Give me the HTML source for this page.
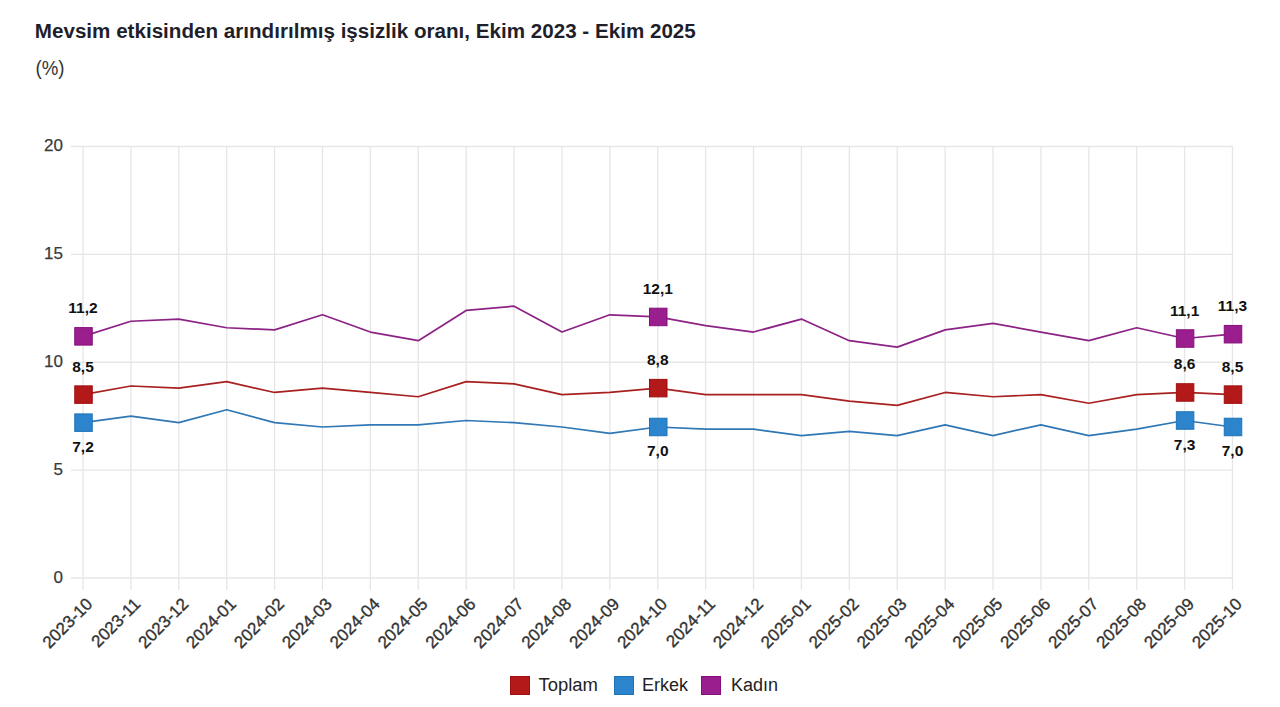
<!DOCTYPE html>
<html><head><meta charset="utf-8"><style>
html,body{margin:0;padding:0;background:#fff;width:1280px;height:707px;overflow:hidden}
svg{display:block}
text{font-family:"Liberation Sans",sans-serif}
</style></head><body>
<svg width="1280" height="707" viewBox="0 0 1280 707">
<rect width="1280" height="707" fill="#fff"/>
<text x="34.8" y="37.8" font-family="Liberation Sans" font-weight="bold" font-size="20" fill="#1f1f2b" textLength="661" lengthAdjust="spacingAndGlyphs">Mevsim etkisinden arındırılmış işsizlik oranı, Ekim 2023 - Ekim 2025</text>
<text x="35.5" y="74.8" font-family="Liberation Sans" font-size="20" fill="#333" textLength="29" lengthAdjust="spacingAndGlyphs">(%)</text>
<g stroke="#e6e6e6" stroke-width="1.3"><line x1="71" y1="578.00" x2="1233.00" y2="578.00"/><line x1="71" y1="470.12" x2="1233.00" y2="470.12"/><line x1="71" y1="362.25" x2="1233.00" y2="362.25"/><line x1="71" y1="254.38" x2="1233.00" y2="254.38"/><line x1="71" y1="146.50" x2="1233.00" y2="146.50"/><line x1="83.00" y1="146.50" x2="83.00" y2="590"/><line x1="130.90" y1="146.50" x2="130.90" y2="590"/><line x1="178.79" y1="146.50" x2="178.79" y2="590"/><line x1="226.69" y1="146.50" x2="226.69" y2="590"/><line x1="274.58" y1="146.50" x2="274.58" y2="590"/><line x1="322.48" y1="146.50" x2="322.48" y2="590"/><line x1="370.38" y1="146.50" x2="370.38" y2="590"/><line x1="418.27" y1="146.50" x2="418.27" y2="590"/><line x1="466.17" y1="146.50" x2="466.17" y2="590"/><line x1="514.06" y1="146.50" x2="514.06" y2="590"/><line x1="561.96" y1="146.50" x2="561.96" y2="590"/><line x1="609.85" y1="146.50" x2="609.85" y2="590"/><line x1="657.75" y1="146.50" x2="657.75" y2="590"/><line x1="705.65" y1="146.50" x2="705.65" y2="590"/><line x1="753.54" y1="146.50" x2="753.54" y2="590"/><line x1="801.44" y1="146.50" x2="801.44" y2="590"/><line x1="849.33" y1="146.50" x2="849.33" y2="590"/><line x1="897.23" y1="146.50" x2="897.23" y2="590"/><line x1="945.12" y1="146.50" x2="945.12" y2="590"/><line x1="993.02" y1="146.50" x2="993.02" y2="590"/><line x1="1040.92" y1="146.50" x2="1040.92" y2="590"/><line x1="1088.81" y1="146.50" x2="1088.81" y2="590"/><line x1="1136.71" y1="146.50" x2="1136.71" y2="590"/><line x1="1184.60" y1="146.50" x2="1184.60" y2="590"/><line x1="1232.50" y1="146.50" x2="1232.50" y2="590"/></g>
<text x="63" y="582.80" text-anchor="end" font-family="Liberation Sans" font-size="17" fill="#3a3a3a" stroke="#3a3a3a" stroke-width="0.25">0</text>
<text x="63" y="474.93" text-anchor="end" font-family="Liberation Sans" font-size="17" fill="#3a3a3a" stroke="#3a3a3a" stroke-width="0.25">5</text>
<text x="63" y="367.05" text-anchor="end" font-family="Liberation Sans" font-size="17" fill="#3a3a3a" stroke="#3a3a3a" stroke-width="0.25">10</text>
<text x="63" y="259.18" text-anchor="end" font-family="Liberation Sans" font-size="17" fill="#3a3a3a" stroke="#3a3a3a" stroke-width="0.25">15</text>
<text x="63" y="151.30" text-anchor="end" font-family="Liberation Sans" font-size="17" fill="#3a3a3a" stroke="#3a3a3a" stroke-width="0.25">20</text>
<text transform="translate(90.00,601.5) rotate(-45)" x="0" y="5" text-anchor="end" font-family="Liberation Sans" font-size="17" fill="#333" stroke="#333" stroke-width="0.35">2023-10</text>
<text transform="translate(137.90,601.5) rotate(-45)" x="0" y="5" text-anchor="end" font-family="Liberation Sans" font-size="17" fill="#333" stroke="#333" stroke-width="0.35">2023-11</text>
<text transform="translate(185.79,601.5) rotate(-45)" x="0" y="5" text-anchor="end" font-family="Liberation Sans" font-size="17" fill="#333" stroke="#333" stroke-width="0.35">2023-12</text>
<text transform="translate(233.69,601.5) rotate(-45)" x="0" y="5" text-anchor="end" font-family="Liberation Sans" font-size="17" fill="#333" stroke="#333" stroke-width="0.35">2024-01</text>
<text transform="translate(281.58,601.5) rotate(-45)" x="0" y="5" text-anchor="end" font-family="Liberation Sans" font-size="17" fill="#333" stroke="#333" stroke-width="0.35">2024-02</text>
<text transform="translate(329.48,601.5) rotate(-45)" x="0" y="5" text-anchor="end" font-family="Liberation Sans" font-size="17" fill="#333" stroke="#333" stroke-width="0.35">2024-03</text>
<text transform="translate(377.38,601.5) rotate(-45)" x="0" y="5" text-anchor="end" font-family="Liberation Sans" font-size="17" fill="#333" stroke="#333" stroke-width="0.35">2024-04</text>
<text transform="translate(425.27,601.5) rotate(-45)" x="0" y="5" text-anchor="end" font-family="Liberation Sans" font-size="17" fill="#333" stroke="#333" stroke-width="0.35">2024-05</text>
<text transform="translate(473.17,601.5) rotate(-45)" x="0" y="5" text-anchor="end" font-family="Liberation Sans" font-size="17" fill="#333" stroke="#333" stroke-width="0.35">2024-06</text>
<text transform="translate(521.06,601.5) rotate(-45)" x="0" y="5" text-anchor="end" font-family="Liberation Sans" font-size="17" fill="#333" stroke="#333" stroke-width="0.35">2024-07</text>
<text transform="translate(568.96,601.5) rotate(-45)" x="0" y="5" text-anchor="end" font-family="Liberation Sans" font-size="17" fill="#333" stroke="#333" stroke-width="0.35">2024-08</text>
<text transform="translate(616.85,601.5) rotate(-45)" x="0" y="5" text-anchor="end" font-family="Liberation Sans" font-size="17" fill="#333" stroke="#333" stroke-width="0.35">2024-09</text>
<text transform="translate(664.75,601.5) rotate(-45)" x="0" y="5" text-anchor="end" font-family="Liberation Sans" font-size="17" fill="#333" stroke="#333" stroke-width="0.35">2024-10</text>
<text transform="translate(712.65,601.5) rotate(-45)" x="0" y="5" text-anchor="end" font-family="Liberation Sans" font-size="17" fill="#333" stroke="#333" stroke-width="0.35">2024-11</text>
<text transform="translate(760.54,601.5) rotate(-45)" x="0" y="5" text-anchor="end" font-family="Liberation Sans" font-size="17" fill="#333" stroke="#333" stroke-width="0.35">2024-12</text>
<text transform="translate(808.44,601.5) rotate(-45)" x="0" y="5" text-anchor="end" font-family="Liberation Sans" font-size="17" fill="#333" stroke="#333" stroke-width="0.35">2025-01</text>
<text transform="translate(856.33,601.5) rotate(-45)" x="0" y="5" text-anchor="end" font-family="Liberation Sans" font-size="17" fill="#333" stroke="#333" stroke-width="0.35">2025-02</text>
<text transform="translate(904.23,601.5) rotate(-45)" x="0" y="5" text-anchor="end" font-family="Liberation Sans" font-size="17" fill="#333" stroke="#333" stroke-width="0.35">2025-03</text>
<text transform="translate(952.12,601.5) rotate(-45)" x="0" y="5" text-anchor="end" font-family="Liberation Sans" font-size="17" fill="#333" stroke="#333" stroke-width="0.35">2025-04</text>
<text transform="translate(1000.02,601.5) rotate(-45)" x="0" y="5" text-anchor="end" font-family="Liberation Sans" font-size="17" fill="#333" stroke="#333" stroke-width="0.35">2025-05</text>
<text transform="translate(1047.92,601.5) rotate(-45)" x="0" y="5" text-anchor="end" font-family="Liberation Sans" font-size="17" fill="#333" stroke="#333" stroke-width="0.35">2025-06</text>
<text transform="translate(1095.81,601.5) rotate(-45)" x="0" y="5" text-anchor="end" font-family="Liberation Sans" font-size="17" fill="#333" stroke="#333" stroke-width="0.35">2025-07</text>
<text transform="translate(1143.71,601.5) rotate(-45)" x="0" y="5" text-anchor="end" font-family="Liberation Sans" font-size="17" fill="#333" stroke="#333" stroke-width="0.35">2025-08</text>
<text transform="translate(1191.60,601.5) rotate(-45)" x="0" y="5" text-anchor="end" font-family="Liberation Sans" font-size="17" fill="#333" stroke="#333" stroke-width="0.35">2025-09</text>
<text transform="translate(1239.50,601.5) rotate(-45)" x="0" y="5" text-anchor="end" font-family="Liberation Sans" font-size="17" fill="#333" stroke="#333" stroke-width="0.35">2025-10</text>
<polyline points="83.00,336.36 130.90,321.26 178.79,319.10 226.69,327.73 274.58,329.89 322.48,314.79 370.38,332.04 418.27,340.68 466.17,310.47 514.06,306.16 561.96,332.04 609.85,314.79 657.75,316.94 705.65,325.57 753.54,332.04 801.44,319.10 849.33,340.68 897.23,347.15 945.12,329.89 993.02,323.41 1040.92,332.04 1088.81,340.68 1136.71,327.73 1184.60,338.52 1232.50,334.20" fill="none" stroke="#8c2286" stroke-width="1.7" stroke-linejoin="round"/>
<polyline points="83.00,394.61 130.90,385.98 178.79,388.14 226.69,381.67 274.58,392.46 322.48,388.14 370.38,392.46 418.27,396.77 466.17,381.67 514.06,383.82 561.96,394.61 609.85,392.46 657.75,388.14 705.65,394.61 753.54,394.61 801.44,394.61 849.33,401.09 897.23,405.40 945.12,392.46 993.02,396.77 1040.92,394.61 1088.81,403.24 1136.71,394.61 1184.60,392.46 1232.50,394.61" fill="none" stroke="#a82020" stroke-width="1.7" stroke-linejoin="round"/>
<polyline points="83.00,422.66 130.90,416.19 178.79,422.66 226.69,409.72 274.58,422.66 322.48,426.98 370.38,424.82 418.27,424.82 466.17,420.50 514.06,422.66 561.96,426.98 609.85,433.45 657.75,426.98 705.65,429.13 753.54,429.13 801.44,435.61 849.33,431.29 897.23,435.61 945.12,424.82 993.02,435.61 1040.92,424.82 1088.81,435.61 1136.71,429.13 1184.60,420.50 1232.50,426.98" fill="none" stroke="#2f78b5" stroke-width="1.7" stroke-linejoin="round"/>
<rect x="74.75" y="327.61" width="17.5" height="17.5" fill="#9a1e8e" stroke="#870f7c" stroke-width="1"/>
<text x="83.00" y="313.36" text-anchor="middle" font-family="Liberation Sans" font-weight="bold" font-size="15.5" fill="#111">11,2</text>
<rect x="649.50" y="308.19" width="17.5" height="17.5" fill="#9a1e8e" stroke="#870f7c" stroke-width="1"/>
<text x="657.75" y="293.94" text-anchor="middle" font-family="Liberation Sans" font-weight="bold" font-size="15.5" fill="#111">12,1</text>
<rect x="1176.35" y="329.77" width="17.5" height="17.5" fill="#9a1e8e" stroke="#870f7c" stroke-width="1"/>
<text x="1184.60" y="315.52" text-anchor="middle" font-family="Liberation Sans" font-weight="bold" font-size="15.5" fill="#111">11,1</text>
<rect x="1224.25" y="325.45" width="17.5" height="17.5" fill="#9a1e8e" stroke="#870f7c" stroke-width="1"/>
<text x="1232.50" y="311.20" text-anchor="middle" font-family="Liberation Sans" font-weight="bold" font-size="15.5" fill="#111">11,3</text>
<rect x="74.75" y="385.86" width="17.5" height="17.5" fill="#b41919" stroke="#a10f0f" stroke-width="1"/>
<text x="83.00" y="371.61" text-anchor="middle" font-family="Liberation Sans" font-weight="bold" font-size="15.5" fill="#111">8,5</text>
<rect x="649.50" y="379.39" width="17.5" height="17.5" fill="#b41919" stroke="#a10f0f" stroke-width="1"/>
<text x="657.75" y="365.14" text-anchor="middle" font-family="Liberation Sans" font-weight="bold" font-size="15.5" fill="#111">8,8</text>
<rect x="1176.35" y="383.71" width="17.5" height="17.5" fill="#b41919" stroke="#a10f0f" stroke-width="1"/>
<text x="1184.60" y="369.46" text-anchor="middle" font-family="Liberation Sans" font-weight="bold" font-size="15.5" fill="#111">8,6</text>
<rect x="1224.25" y="385.86" width="17.5" height="17.5" fill="#b41919" stroke="#a10f0f" stroke-width="1"/>
<text x="1232.50" y="371.61" text-anchor="middle" font-family="Liberation Sans" font-weight="bold" font-size="15.5" fill="#111">8,5</text>
<rect x="74.75" y="413.91" width="17.5" height="17.5" fill="#2b84cc" stroke="#1f74b8" stroke-width="1"/>
<text x="83.00" y="452.16" text-anchor="middle" font-family="Liberation Sans" font-weight="bold" font-size="15.5" fill="#111">7,2</text>
<rect x="649.50" y="418.23" width="17.5" height="17.5" fill="#2b84cc" stroke="#1f74b8" stroke-width="1"/>
<text x="657.75" y="456.48" text-anchor="middle" font-family="Liberation Sans" font-weight="bold" font-size="15.5" fill="#111">7,0</text>
<rect x="1176.35" y="411.75" width="17.5" height="17.5" fill="#2b84cc" stroke="#1f74b8" stroke-width="1"/>
<text x="1184.60" y="450.00" text-anchor="middle" font-family="Liberation Sans" font-weight="bold" font-size="15.5" fill="#111">7,3</text>
<rect x="1224.25" y="418.23" width="17.5" height="17.5" fill="#2b84cc" stroke="#1f74b8" stroke-width="1"/>
<text x="1232.50" y="456.48" text-anchor="middle" font-family="Liberation Sans" font-weight="bold" font-size="15.5" fill="#111">7,0</text>
<rect x="510.5" y="676.5" width="19" height="18" fill="#b41919" stroke="#a10f0f" stroke-width="1"/>
<text x="538.5" y="691" font-family="Liberation Sans" font-size="18" fill="#222" textLength="59.5" lengthAdjust="spacingAndGlyphs">Toplam</text>
<rect x="614.5" y="676.5" width="19" height="18" fill="#2b84cc" stroke="#1f74b8" stroke-width="1"/>
<text x="642" y="691" font-family="Liberation Sans" font-size="18" fill="#222" textLength="46" lengthAdjust="spacingAndGlyphs">Erkek</text>
<rect x="701.5" y="676.5" width="19" height="18" fill="#9a1e8e" stroke="#870f7c" stroke-width="1"/>
<text x="731" y="691" font-family="Liberation Sans" font-size="18" fill="#222" textLength="47" lengthAdjust="spacingAndGlyphs">Kadın</text>
</svg>
</body></html>
